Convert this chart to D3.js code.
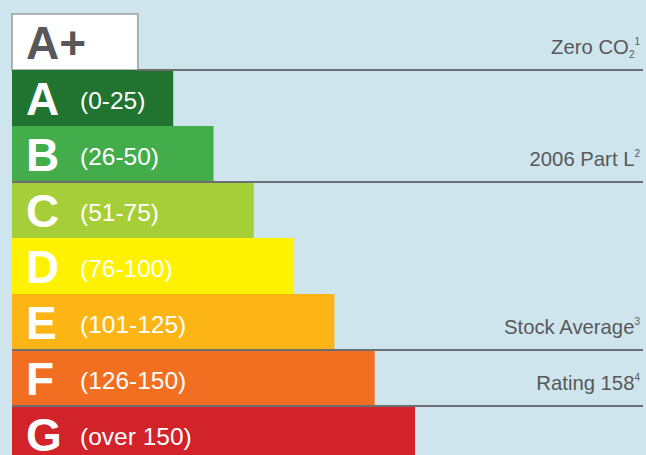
<!DOCTYPE html>
<html>
<head>
    <title>Energy Rating</title>
    <style>
        body { margin: 0; background: #cfe5ee; }
        svg { display: block; font-family: "Liberation Sans", Arial, Helvetica, sans-serif; }
    </style>
    <script src="https://cdn.jsdelivr.net/npm/d3@7"></script>
</head>
<body>
<script type="text/javascript">

    // rating bands
    var grades = ['A+', 'A', 'B', 'C', 'D', 'E', 'F', 'G'];
    var ranges = ['', '(0-25)', '(26-50)', '(51-75)', '(76-100)', '(101-125)', '(126-150)', '(over 150)'];
    var upper  = [0, 25, 50, 75, 100, 125, 150, 175];
    var colors = ['#ffffff', '#217430', '#42ad4a', '#a6ce39', '#fff200', '#fdb515', '#f26f21', '#d2232a'];

    // reference lines on the right
    var markGrades = ['A+', 'B', 'E', 'F'];
    var markText   = ['Zero CO', '2006 Part L', 'Stock Average', 'Rating 158'];
    var markSub    = ['2', '', '', ''];
    var markSup    = ['1', '2', '3', '4'];

    var W = 646, H = 455;

    var svg = d3.select('body')
        .append('svg')
        .attr('width', W)
        .attr('height', H);

    svg.append('rect')
        .attr('width', W)
        .attr('height', H)
        .style('fill', '#cfe5ee');

    var y = d3.scaleBand()
        .domain(grades)
        .range([14, 14 + grades.length * 56])
        .padding(0);

    var x = d3.scaleLinear()
        .domain([-75, 175])
        .range([12, 415]);

    var rows = grades.map(function(g, i) {
        return {grade: g, range: ranges[i], v: upper[i], color: colors[i]};
    });

    var g = svg.selectAll('g.row')
        .data(rows)
        .enter()
        .append('g')
        .attr('class', 'row')
        .attr('transform', function(d) { return 'translate(0,' + y(d.grade) + ')'; });

    g.append('rect')
        .attr('x', x(-75))
        .attr('y', 0)
        .attr('width', function(d) { return d.grade === 'A+' ? x(d.v) + 5 - x(-75) : x(d.v) - x(-75); })
        .attr('height', y.bandwidth())
        .style('fill', function(d) { return d.color; })
        .style('stroke', function(d) { return d.grade === 'A+' ? '#9a9b9d' : 'none'; })
        .style('stroke-width', 1.5);

    g.append('text')
        .attr('x', 26)
        .attr('y', 45)
        .style('font-size', '46px')
        .style('font-weight', 'bold')
        .style('fill', function(d) { return d.grade === 'A+' ? '#58585a' : '#ffffff'; })
        .text(function(d) { return d.grade; });

    g.append('text')
        .attr('x', 80)
        .attr('y', 39)
        .style('font-size', '24.5px')
        .style('fill', '#ffffff')
        .text(function(d) { return d.range; });

    // marker lines and labels
    var marks = markGrades.map(function(m, i) {
        return {grade: m, text: markText[i], sub: markSub[i], sup: markSup[i]};
    });

    svg.selectAll('line.mark')
        .data(marks)
        .enter()
        .append('line')
        .attr('class', 'mark')
        .attr('x1', function(d) { return d.grade === 'A+' ? x(0) + 5 : 12; })
        .attr('x2', 643)
        .attr('y1', function(d) { return y(d.grade) + y.bandwidth(); })
        .attr('y2', function(d) { return y(d.grade) + y.bandwidth(); })
        .style('stroke', '#6d6e71')
        .style('stroke-width', 2);

    var lbl = svg.selectAll('text.mark')
        .data(marks)
        .enter()
        .append('text')
        .attr('class', 'mark')
        .attr('x', 640)
        .attr('y', function(d) { return y(d.grade) + y.bandwidth() - 16; })
        .attr('text-anchor', 'end')
        .style('font-size', '20.3px')
        .style('fill', '#58585a');

    lbl.append('tspan').text(function(d) { return d.text; });
    lbl.each(function(d) {
        var t = d3.select(this);
        if (d.sub) {
            t.append('tspan').attr('dy', 4).style('font-size', '10px').text(d.sub);
            t.append('tspan').attr('dy', -13).style('font-size', '10px').text(d.sup);
        } else {
            t.append('tspan').attr('dy', -9).style('font-size', '10px').text(d.sup);
        }
    });

</script>
</body>
</html>
